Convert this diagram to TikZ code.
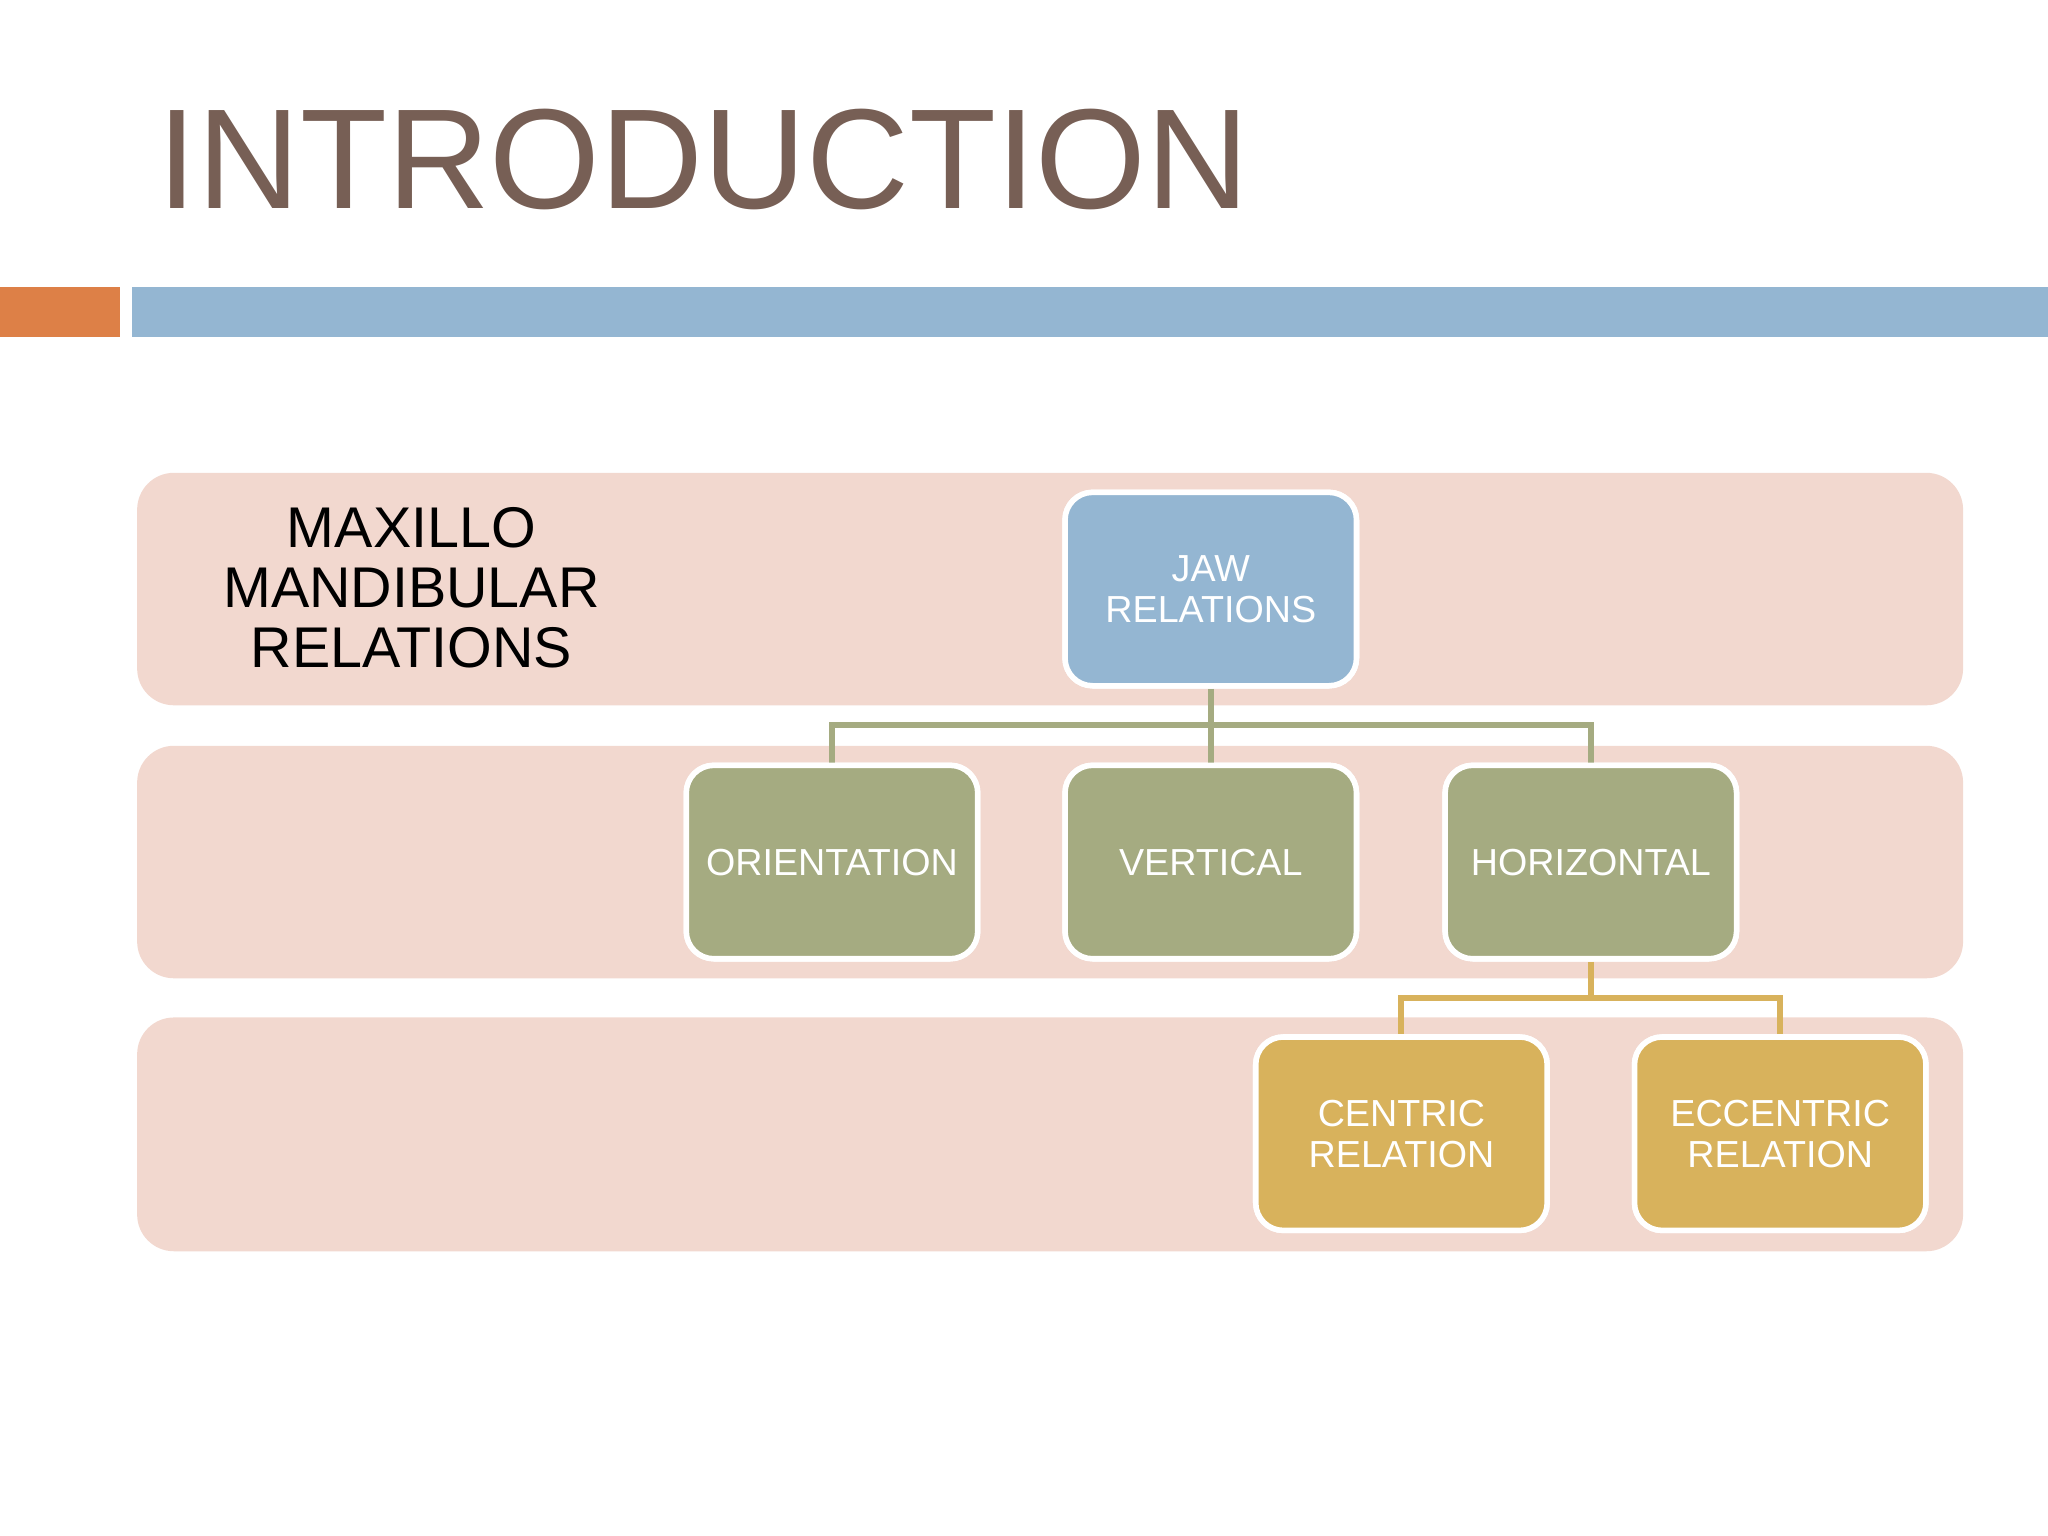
\documentclass[tikz,border=0pt]{standalone}
\usepackage{fontspec}
\setmainfont{Liberation Sans}
\usetikzlibrary{positioning}
\definecolor{band}{HTML}{F2D8CF}
\definecolor{jawblue}{HTML}{94B6D2}
\definecolor{olive}{HTML}{A5AB81}
\definecolor{gold}{HTML}{D8B25C}
\definecolor{titlebrown}{HTML}{775F55}
\definecolor{barorange}{HTML}{DD8047}
\tikzset{
  level band/.style={
    rounded corners=8pt,
    fill=band,
  },
  chart box/.style={
    rounded corners=6pt,
    draw=white,
    line width=1.2pt,
    minimum width=2.23cm,
    minimum height=1.48cm,
    align=center,
    text=white,
    font=\fontsize{8.2}{9}\selectfont,
  },
}
\begin{document}
\begin{tikzpicture}[x=0.01cm, y=-0.01cm]
      \useasboundingbox (0,0) rectangle (1568,1176);

      \node[anchor=base west, inner sep=0, text=titlebrown,
            font=\fontsize{31}{31}\selectfont] (title) at (120,160) {INTRODUCTION};
      \fill[barorange] (0,220) rectangle (92,258);
      \fill[jawblue] (101,220) rectangle (1568,258);

      \fill[level band] (105,362) rectangle (1503,540);
      \fill[level band] (105,571) rectangle (1503,749);
      \fill[level band] (105,779) rectangle (1503,958);

      \node[align=center, font=\fontsize{12.5}{13}\selectfont] (levels) at (315,450)
        {MAXILLO\\MANDIBULAR\\RELATIONS};

      \node[chart box, fill=jawblue] (jaw) at (927,451) {JAW\\RELATIONS};
      \node[chart box, fill=olive]   (ori) at (637,660) {ORIENTATION};
      \node[chart box, fill=olive]   (ver) at (927,660) {VERTICAL};
      \node[chart box, fill=olive]   (hor) at (1218,660) {HORIZONTAL};
      \node[chart box, fill=gold]    (cen) at (1073,868) {CENTRIC\\RELATION};
      \node[chart box, fill=gold]    (ecc) at (1363,868) {ECCENTRIC\\RELATION};

      \coordinate (midA) at (0,555);
      \coordinate (midB) at (0,764);

      \draw[olive, line width=1.3pt] (jaw) -- (ver);
      \draw[olive, line width=1.3pt] (ori) -- (ori|-midA) -- (hor|-midA) -- (hor);
      \draw[gold, line width=1.3pt] (hor) -- (hor|-midB);
      \draw[gold, line width=1.3pt] (cen) -- (cen|-midB) -- (ecc|-midB) -- (ecc);

      % boxes again on top of the connectors
      \node[chart box, fill=jawblue] at (jaw) {JAW\\RELATIONS};
      \node[chart box, fill=olive]   at (ori) {ORIENTATION};
      \node[chart box, fill=olive]   at (ver) {VERTICAL};
      \node[chart box, fill=olive]   at (hor) {HORIZONTAL};
      \node[chart box, fill=gold]    at (cen) {CENTRIC\\RELATION};
      \node[chart box, fill=gold]    at (ecc) {ECCENTRIC\\RELATION};
\end{tikzpicture}
\end{document}
